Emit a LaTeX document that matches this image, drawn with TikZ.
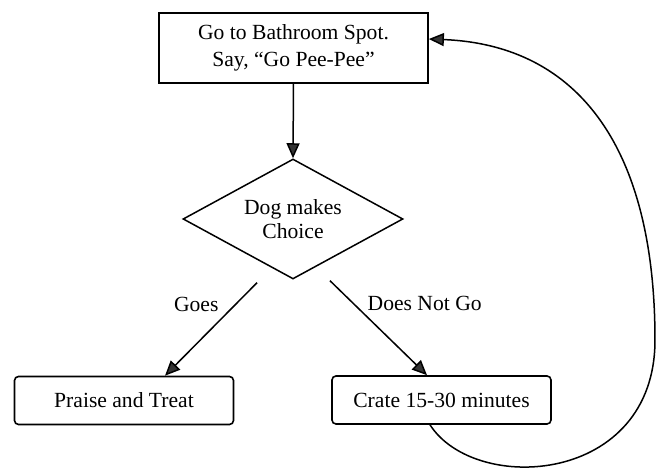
\documentclass[tikz,border=0pt]{standalone}
\usepackage{fontspec}
\setmainfont{Liberation Serif}
\usetikzlibrary{shapes.geometric, arrows.meta}

\begin{document}
\begin{tikzpicture}[x=0.5pt,y=-0.5pt,
        every node/.style={font=\fontsize{10.8}{13.5}\selectfont, align=center},
        plainbox/.style={draw, line width=0.9pt, minimum width=134.5pt, minimum height=35pt, inner sep=0pt},
        roundbox/.style={draw, line width=0.8pt, rounded corners=2pt, minimum width=109.5pt, minimum height=24pt, inner sep=0pt},
        choicebox/.style={draw, diamond, aspect=1.83, line width=0.75pt, minimum width=110pt, minimum height=60pt, inner sep=0pt, font=\fontsize{10.8}{12}\selectfont},
        flow/.style={line width=0.75pt, -{Triangle[length=7.5pt,width=6.5pt,fill=black!80]}}]
        \useasboundingbox (0,0) rectangle (661,469);

        \node[plainbox] (bathroom) at (293.5,48) {Go to Bathroom Spot.\\Say, ``Go Pee-Pee''};
        \node[choicebox] (choice) at (293,219) {Dog makes\\Choice};
        \node[roundbox] (praise) at (124,400.5) {Praise and Treat};
        \node[roundbox] (crate) at (441.5,400) {Crate 15-30 minutes};

        \draw[flow] (bathroom.south) -- (choice.north);
        \draw[flow] ([xshift=-18pt,yshift=-1.5pt]choice.south) -- node[pos=.23, left=5pt] (goes) {Goes} ([xshift=20.5pt]praise.north);
        \draw[flow] ([xshift=18.5pt,yshift=-0.5pt]choice.south) -- node[pos=.24, right=3.5pt] (nogo) {Does Not Go} ([xshift=-7.25pt]crate.north);

        % back to the spot
        \coordinate (loopright) at (655,340);
        \draw[flow] ([xshift=-5.75pt]crate.south) .. controls (475,495) and (655,485) .. (loopright)
            .. controls (655,150) and (580,45) .. ([yshift=4.5pt]bathroom.east);
\end{tikzpicture}
\end{document}
